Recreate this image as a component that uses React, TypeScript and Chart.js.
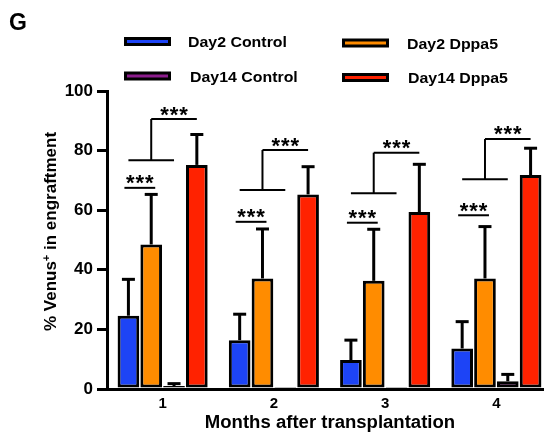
import { useEffect, useRef } from 'react';
import { Chart, registerables } from 'chart.js';

Chart.register(...registerables);

const months = ['1', '2', '3', '4'];
const seriesLabels = ['Day2 Control', 'Day2 Dppa5', 'Day14 Control', 'Day14 Dppa5'];
const seriesColors = ['#1d44f6', '#ff8c00', '#8c1c8c', '#ff2200'];

const day2Control = [24.6, 16.4, 9.7, 13.6];
const day2ControlErr = [12.2, 8.7, 6.7, 9.0];
const day2Dppa5 = [48.5, 37.1, 36.3, 37.1];
const day2Dppa5Err = [16.8, 16.6, 17.3, 17.4];
const day14Control = [1.0, 0.3, 0.3, 2.6];
const day14ControlErr = [0.8, 0, 0, 2.3];
const day14Dppa5 = [75.2, 65.3, 59.4, 71.8];
const day14Dppa5Err = [10.2, 9.3, 16.0, 9.0];

const yTicks = [0, 20, 40, 60, 80, 100];

// significance markers (y values)
const sigPairY = [67.5, 56.1, 55.8, 58.3];
const sigBracketLowY = [76.8, 66.8, 65.7, 70.4];
const sigBracketHighY = [90.6, 80.2, 79.3, 83.9];
const sigLabel = '***';

const panelLabel = 'G';
const xTitle = 'Months after transplantation';
const yTitleA = '% Venus';
const yTitleSup = '+';
const yTitleB = ' in engraftment';

const values = [day2Control, day2Dppa5, day14Control, day14Dppa5];
const errors = [day2ControlErr, day2Dppa5Err, day14ControlErr, day14Dppa5Err];

const FONT = '"Liberation Sans", Arial, Helvetica, sans-serif';

function drawText(
  ctx: CanvasRenderingContext2D,
  s: string,
  x: number,
  y: number,
  font: string,
  align: CanvasTextAlign,
  sx = 1
) {
  ctx.save();
  ctx.font = font;
  ctx.textAlign = align;
  ctx.textBaseline = 'alphabetic';
  ctx.fillStyle = '#000';
  ctx.translate(x, y);
  ctx.scale(sx, 1);
  ctx.fillText(s, 0, 0);
  ctx.restore();
}

function line(ctx: CanvasRenderingContext2D, x1: number, y1: number, x2: number, y2: number) {
  ctx.beginPath();
  ctx.moveTo(x1, y1);
  ctx.lineTo(x2, y2);
  ctx.stroke();
}

function drawStars(ctx: CanvasRenderingContext2D, cx: number, lineY: number) {
  ctx.save();
  ctx.font = `bold 22px ${FONT}`;
  ctx.textAlign = 'center';
  ctx.textBaseline = 'alphabetic';
  ctx.fillStyle = '#000';
  const chars = sigLabel.split('');
  chars.forEach((c, i) => {
    ctx.fillText(c, cx + (i - (chars.length - 1) / 2) * 9.5, lineY + 2.5);
  });
  ctx.restore();
}

const overlayPlugin = {
  id: 'overlay',
  afterDatasetsDraw(chart: any) {
    const ctx: CanvasRenderingContext2D = chart.ctx;
    const ys = chart.scales.y;
    const metas = values.map((_, i) => chart.getDatasetMeta(i));
    ctx.save();
    ctx.strokeStyle = '#000';
    ctx.lineWidth = 3;
    errors.forEach((arr, i) => {
      arr.forEach((e, j) => {
        if (e <= 0) return;
        const bar = metas[i].data[j];
        const x = bar.x;
        const yTop = ys.getPixelForValue(values[i][j]);
        const yCap = ys.getPixelForValue(values[i][j] + e);
        line(ctx, x, yTop, x, yCap);
        line(ctx, x - 6.5, yCap, x + 6.5, yCap);
      });
    });
    // significance
    ctx.lineWidth = 2;
    months.forEach((_, j) => {
      const xb = metas[0].data[j].x;
      const xo = metas[1].data[j].x;
      const xp = metas[2].data[j].x;
      const xr = metas[3].data[j].x;
      const yPair = ys.getPixelForValue(sigPairY[j]);
      line(ctx, xb - 4, yPair, xo + 4, yPair);
      drawStars(ctx, (xb + xo) / 2, yPair);
      const yLow = ys.getPixelForValue(sigBracketLowY[j]);
      const yHigh = ys.getPixelForValue(sigBracketHighY[j]);
      line(ctx, xb, yLow, xp, yLow);
      line(ctx, xo, yLow, xo, yHigh);
      line(ctx, xo, yHigh, xr, yHigh);
      drawStars(ctx, (xo + xr) / 2, yHigh);
    });
    ctx.restore();
  },
  afterDraw(chart: any) {
    const ctx: CanvasRenderingContext2D = chart.ctx;
    // panel label
    drawText(ctx, panelLabel, 9, 30, `bold 23px ${FONT}`, 'left');
    // legend
    const legendPos = [
      { sx: 124, sy: 37, tx: 188, ty: 47 },
      { sx: 342, sy: 38.5, tx: 407, ty: 48.5 },
      { sx: 124, sy: 71.5, tx: 190, ty: 82 },
      { sx: 342, sy: 73, tx: 408, ty: 83 },
    ];
    seriesLabels.forEach((lab, i) => {
      const p = legendPos[i];
      ctx.fillStyle = '#000';
      ctx.fillRect(p.sx, p.sy, 47, 9);
      ctx.fillStyle = seriesColors[i];
      ctx.fillRect(p.sx + 3, p.sy + 3, 41, 3);
      drawText(ctx, lab, p.tx, p.ty, `bold 15px ${FONT}`, 'left', 1.06);
    });
    // x title
    drawText(ctx, xTitle, 330, 428, `bold 18px ${FONT}`, 'center', 1.03);
    // y title (rotated)
    ctx.save();
    ctx.translate(55.5, 231.5);
    ctx.rotate(-Math.PI / 2);
    ctx.fillStyle = '#000';
    ctx.textBaseline = 'alphabetic';
    ctx.textAlign = 'left';
    const mainFont = `bold 17px ${FONT}`;
    const supFont = `bold 11px ${FONT}`;
    ctx.font = mainFont;
    const wA = ctx.measureText(yTitleA).width;
    const wB = ctx.measureText(yTitleB).width;
    ctx.font = supFont;
    const wS = ctx.measureText(yTitleSup).width;
    const total = wA + wS + wB;
    let x0 = -total / 2;
    ctx.font = mainFont;
    ctx.fillText(yTitleA, x0, 0);
    x0 += wA;
    ctx.font = supFont;
    ctx.fillText(yTitleSup, x0, -6);
    x0 += wS;
    ctx.font = mainFont;
    ctx.fillText(yTitleB, x0, 0);
    ctx.restore();
  },
};

export default function App() {
  const canvasRef = useRef<HTMLCanvasElement | null>(null);

  useEffect(() => {
    const canvas = canvasRef.current;
    if (!canvas) return;
    const chart = new Chart(canvas, {
      type: 'bar',
      data: {
        labels: months,
        datasets: seriesLabels.map((lab, i) => ({
          label: lab,
          data: values[i],
          backgroundColor: seriesColors[i],
          borderColor: '#000',
          borderWidth: 3,
          borderSkipped: false,
          categoryPercentage: 0.82,
          barPercentage: 0.95,
        })),
      },
      options: {
        responsive: false,
        animation: false,
        devicePixelRatio: 1,
        layout: { padding: { top: 91, right: 8, bottom: 0, left: 0 } },
        plugins: {
          legend: { display: false },
          tooltip: { enabled: false },
          title: { display: false },
        },
        scales: {
          x: {
            type: 'category',
            grid: { display: false, drawTicks: false },
            border: { display: true, color: '#000', width: 3 },
            ticks: {
              color: '#000',
              padding: 6,
              font: { family: FONT, weight: 'bold', size: 15 },
            },
            afterFit: (scale: any) => {
              scale.height = 49;
            },
          },
          y: {
            min: 0,
            max: 100,
            grid: {
              display: true,
              drawOnChartArea: false,
              drawTicks: true,
              tickLength: 10,
              lineWidth: 3,
              color: '#000',
            },
            border: { display: true, color: '#000', width: 3 },
            ticks: {
              color: '#000',
              padding: 4,
              font: { family: FONT, weight: 'bold', size: 17 },
            },
            afterBuildTicks: (scale: any) => {
              scale.ticks = yTicks.map((v) => ({ value: v }));
            },
            afterFit: (scale: any) => {
              scale.width = 107;
            },
          },
        },
      },
      plugins: [overlayPlugin],
    } as any);
    return () => chart.destroy();
  }, []);

  return (
    <div
      style={{
        position: 'fixed',
        left: 0,
        top: 0,
        width: 544,
        height: 438,
        overflow: 'hidden',
        background: '#fff',
      }}
    >
      <canvas ref={canvasRef} width={560} height={438} style={{ display: 'block' }} />
    </div>
  );
}
